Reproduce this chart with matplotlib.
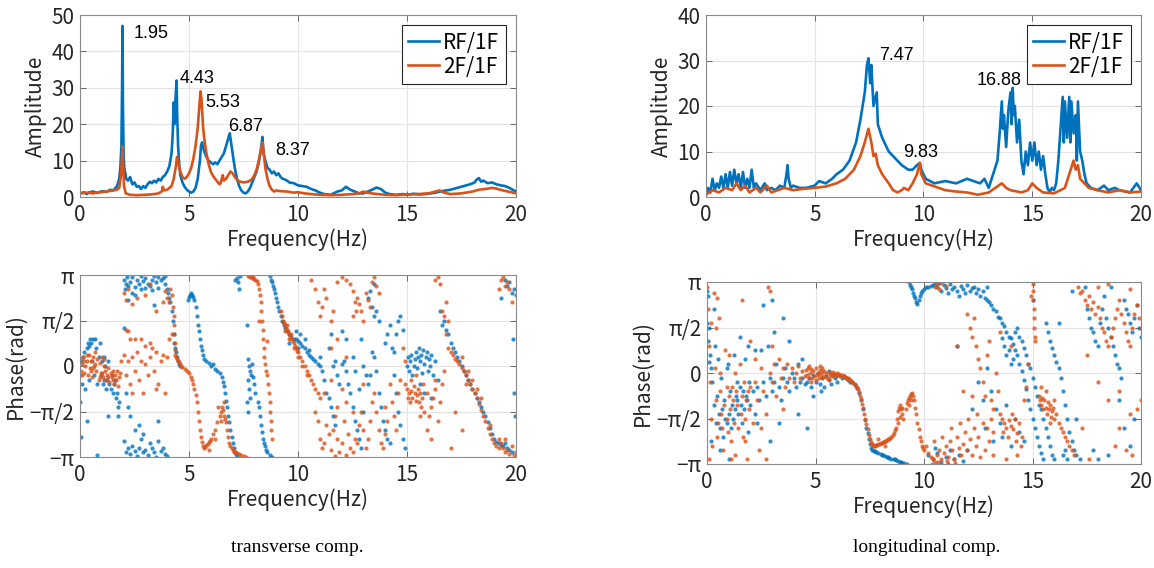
import numpy as np
import matplotlib
matplotlib.use("Agg")
import matplotlib.pyplot as plt

# ---- data (freq Hz, amplitude) ----
tr_amp_rf = [(0.0,1.0),(0.2,1.3),(0.3,0.8),(0.4,1.2),(0.6,1.5),(0.8,1.1),(1.0,1.6),(1.2,1.4),(1.4,2.0),(1.5,1.7),(1.6,2.3),(1.7,3.0),(1.8,5.0),(1.85,8.0),(1.9,14.0),(1.93,30.0),(1.95,47.0),(1.97,25.0),(2.0,12.0),(2.03,8.0),(2.08,6.5),(2.12,5.0),(2.2,4.5),(2.3,5.5),(2.4,3.5),(2.5,4.0),(2.6,2.8),(2.7,3.0),(2.8,2.2),(2.9,3.0),(3.0,2.5),(3.1,3.5),(3.2,4.2),(3.3,3.8),(3.4,4.5),(3.5,4.0),(3.6,5.0),(3.7,4.5),(3.8,5.5),(3.9,6.0),(4.0,7.0),(4.1,8.5),(4.2,12.0),(4.25,17.0),(4.3,26.0),(4.33,20.0),(4.38,27.0),(4.43,32.0),(4.46,22.0),(4.5,14.0),(4.55,9.0),(4.6,6.0),(4.7,4.0),(4.8,2.8),(4.9,2.0),(5.0,1.5),(5.1,1.2),(5.2,1.5),(5.3,2.5),(5.4,5.0),(5.5,10.0),(5.55,14.0),(5.6,15.0),(5.65,13.5),(5.7,12.5),(5.8,11.0),(5.9,10.0),(6.0,9.5),(6.1,9.0),(6.2,9.5),(6.3,9.0),(6.4,10.0),(6.5,11.0),(6.6,12.0),(6.7,14.0),(6.8,16.0),(6.87,17.5),(6.95,14.0),(7.0,12.0),(7.1,8.0),(7.2,5.0),(7.3,3.0),(7.4,1.8),(7.5,1.2),(7.6,1.0),(7.7,1.5),(7.8,2.5),(7.9,4.0),(8.0,5.5),(8.1,7.0),(8.2,9.5),(8.3,13.0),(8.37,16.5),(8.42,12.0),(8.5,10.0),(8.6,8.0),(8.7,7.5),(8.8,6.5),(8.9,7.0),(9.0,6.0),(9.1,6.5),(9.2,5.5),(9.3,5.0),(9.4,4.8),(9.5,4.5),(9.6,4.0),(9.8,3.8),(10.0,3.2),(10.2,3.0),(10.4,2.8),(10.6,2.2),(10.8,1.8),(11.0,1.2),(11.2,0.8),(11.5,0.6),(11.8,1.5),(12.0,1.8),(12.2,2.8),(12.4,2.0),(12.6,1.5),(12.8,1.0),(13.0,1.0),(13.2,1.5),(13.4,2.0),(13.6,2.6),(13.8,2.2),(14.0,1.2),(14.2,0.8),(14.5,0.6),(14.8,0.8),(15.0,0.6),(15.3,0.9),(15.6,0.7),(16.0,0.9),(16.3,1.2),(16.6,1.6),(17.0,2.0),(17.3,2.5),(17.6,3.0),(17.9,3.5),(18.1,4.0),(18.2,4.8),(18.3,5.2),(18.4,4.2),(18.5,4.5),(18.7,3.8),(18.9,4.0),(19.1,3.5),(19.3,3.2),(19.5,3.0),(19.7,2.5),(19.9,1.8),(20.0,1.5)]
tr_amp_2f = [(0.0,1.0),(0.3,1.2),(0.6,1.0),(0.9,1.3),(1.2,1.5),(1.5,1.8),(1.7,2.0),(1.8,2.5),(1.88,6.0),(1.93,11.0),(1.95,14.0),(1.98,9.0),(2.02,3.0),(2.1,1.0),(2.3,0.6),(2.6,0.5),(3.0,0.6),(3.4,0.8),(3.6,1.0),(3.75,1.5),(3.8,2.8),(3.85,1.8),(4.0,2.0),(4.2,3.0),(4.3,5.0),(4.4,8.5),(4.45,11.0),(4.5,9.5),(4.6,7.0),(4.7,5.5),(4.8,5.0),(4.9,5.5),(5.0,6.5),(5.1,8.0),(5.2,10.5),(5.3,14.0),(5.4,19.0),(5.45,23.0),(5.5,27.0),(5.53,29.0),(5.57,27.0),(5.6,24.0),(5.65,19.0),(5.7,16.0),(5.8,12.0),(5.9,9.0),(6.0,7.0),(6.1,5.8),(6.2,5.0),(6.3,4.2),(6.4,3.5),(6.45,3.8),(6.5,5.0),(6.55,6.0),(6.6,4.5),(6.7,5.0),(6.8,6.0),(6.9,7.0),(7.0,6.5),(7.1,5.5),(7.2,4.8),(7.3,4.3),(7.5,4.0),(7.7,4.2),(7.8,4.5),(7.9,5.0),(8.0,6.0),(8.1,7.5),(8.2,10.0),(8.3,13.0),(8.37,15.0),(8.42,12.5),(8.5,8.0),(8.6,5.0),(8.7,3.0),(8.8,2.0),(8.9,1.5),(9.0,1.8),(9.2,1.6),(9.5,1.5),(9.8,1.2),(10.0,1.3),(10.3,1.0),(10.6,0.8),(11.0,0.6),(11.5,0.5),(12.0,0.6),(12.5,0.8),(12.8,1.0),(13.0,1.5),(13.2,1.2),(13.5,0.9),(14.0,0.6),(14.5,0.5),(15.0,0.7),(15.5,0.8),(16.0,1.0),(16.3,1.5),(16.5,1.8),(16.7,1.2),(17.0,0.8),(17.5,1.0),(18.0,1.5),(18.3,2.0),(18.6,2.2),(18.9,2.5),(19.1,2.3),(19.4,1.8),(19.7,1.4),(20.0,1.0)]

lo_amp_rf = [(0.0,0.5),(0.1,2.0),(0.2,1.0),(0.3,4.0),(0.4,1.5),(0.5,3.0),(0.6,2.0),(0.7,4.5),(0.8,2.0),(0.9,5.0),(1.0,2.0),(1.1,5.5),(1.2,2.5),(1.3,6.0),(1.4,3.0),(1.5,5.0),(1.6,2.0),(1.7,5.5),(1.8,2.0),(1.9,4.0),(2.0,2.0),(2.1,6.0),(2.2,2.0),(2.3,3.0),(2.5,1.5),(2.7,3.0),(2.8,1.5),(3.0,2.0),(3.2,1.5),(3.4,2.5),(3.6,2.0),(3.7,5.0),(3.75,7.0),(3.8,4.0),(3.9,2.0),(4.0,2.5),(4.3,2.0),(4.6,2.0),(5.0,2.5),(5.2,3.5),(5.5,3.0),(5.8,4.0),(6.0,5.0),(6.3,6.0),(6.6,8.0),(6.9,12.0),(7.1,17.0),(7.3,23.0),(7.4,29.0),(7.47,30.5),(7.55,25.0),(7.6,29.0),(7.7,20.0),(7.8,22.0),(7.85,23.0),(7.9,16.0),(8.1,13.0),(8.4,10.0),(8.7,8.5),(9.0,7.0),(9.3,6.0),(9.5,6.0),(9.7,7.0),(9.83,7.5),(9.9,6.0),(10.1,4.0),(10.5,3.0),(11.0,3.5),(11.5,3.0),(12.0,4.0),(12.3,3.5),(12.6,3.0),(12.8,4.0),(13.0,2.0),(13.2,5.0),(13.4,8.0),(13.5,14.0),(13.6,21.0),(13.65,15.0),(13.7,18.0),(13.8,11.0),(13.9,19.0),(14.0,23.0),(14.05,16.0),(14.1,24.0),(14.15,18.0),(14.2,20.0),(14.3,12.0),(14.4,17.0),(14.5,8.0),(14.6,5.0),(14.7,10.0),(14.8,7.0),(14.9,12.0),(15.0,8.0),(15.1,12.0),(15.2,7.0),(15.3,10.0),(15.4,6.0),(15.5,9.0),(15.6,5.0),(15.7,2.0),(15.8,1.0),(15.9,2.0),(16.0,1.5),(16.1,3.0),(16.2,8.0),(16.3,15.0),(16.4,22.0),(16.45,12.0),(16.5,21.0),(16.6,13.0),(16.7,22.0),(16.75,12.0),(16.8,21.0),(16.9,14.0),(17.0,18.0),(17.05,8.0),(17.1,21.0),(17.2,10.0),(17.3,8.0),(17.4,5.0),(17.5,3.0),(17.7,2.0),(18.0,1.5),(18.3,2.5),(18.5,1.5),(18.8,2.0),(19.0,1.5),(19.5,1.0),(19.8,3.0),(20.0,1.5)]
lo_amp_2f = [(0.0,0.5),(0.3,1.5),(0.6,1.0),(0.9,2.0),(1.2,1.5),(1.4,3.0),(1.6,1.5),(1.8,2.5),(2.0,1.0),(2.3,2.0),(2.5,1.0),(2.8,2.5),(3.0,1.0),(3.3,1.5),(3.6,2.0),(4.0,1.5),(4.5,1.8),(5.0,2.0),(5.5,2.3),(6.0,3.0),(6.4,4.0),(6.8,6.0),(7.1,9.0),(7.3,12.0),(7.47,15.0),(7.6,12.0),(7.7,9.0),(7.8,9.5),(7.9,7.0),(8.1,5.0),(8.4,3.0),(8.6,1.5),(8.8,1.0),(9.0,1.5),(9.1,2.0),(9.3,1.5),(9.5,3.0),(9.7,5.0),(9.83,7.5),(9.9,5.0),(10.1,3.0),(10.4,2.5),(10.7,2.0),(11.0,1.5),(11.5,1.2),(12.0,1.0),(12.5,0.5),(13.0,1.0),(13.3,2.0),(13.6,3.0),(13.8,2.0),(14.0,1.5),(14.5,1.0),(14.8,1.5),(15.0,3.0),(15.2,2.0),(15.5,1.0),(16.0,0.8),(16.3,1.5),(16.5,2.0),(16.7,5.0),(16.9,8.0),(17.0,6.0),(17.1,7.0),(17.2,4.0),(17.4,3.0),(17.6,2.0),(18.0,1.5),(18.5,1.0),(19.0,1.5),(19.5,1.0),(20.0,1.2)]

# ---- phase (freq Hz, phase in units of pi) ----
tr_ph_rf = [
 (0.0,-0.1),(0.05,0.05),(0.1,-0.2),(0.15,0.1),(0.2,0.15),(0.25,-0.25),(0.3,0.2),(0.35,0.25),(0.4,-0.15),(0.45,0.3),(0.5,0.25),(0.55,0.05),(0.6,0.3),(0.65,-0.1),(0.7,0.3),(0.75,0.2),(0.8,-0.2),(0.85,0.1),(0.9,0.25),(0.95,-0.1),(1.0,0.05),(1.05,-0.2),(1.1,-0.15),(1.15,0.0),(1.2,-0.25),(1.25,-0.15),(1.3,0.05),(1.35,-0.2),(1.4,-0.25),(1.45,-0.1),(1.5,-0.3),(1.55,-0.2),(1.6,-0.15),(1.65,-0.35),(1.7,-0.3),(1.75,-0.45),(1.8,-0.4),
 (0.05,-0.78),(0.3,-0.6),(0.8,-0.98),(1.3,-0.55),(0.0,-0.4),(1.75,-0.55),(1.1,0.1),(0.4,0.22),
 (2.0,0.95),(2.05,0.85),(2.1,0.9),(2.15,0.98),(2.2,0.88),(2.3,0.92),(2.4,0.8),(2.5,0.87),(2.6,0.95),(2.7,0.9),(2.8,0.85),(2.9,0.93),(3.0,0.97),(3.1,0.9),(3.2,0.88),(3.3,0.95),(3.4,0.99),(3.5,0.92),(3.6,0.86),(3.7,0.94),(3.8,0.97),(3.9,0.9),(4.0,0.85),(4.05,0.8),(4.1,0.75),(4.15,0.7),(4.2,0.6),
 (2.2,0.72),(2.5,0.78),(2.8,0.99),(3.3,0.83),(3.6,0.98),(3.9,0.99),(2.4,0.98),(3.0,0.86),
 (2.0,-0.82),(2.1,-0.95),(2.2,-0.9),(2.3,-0.97),(2.4,-0.88),(2.5,-0.93),(2.6,-0.99),(2.7,-0.9),(2.8,-0.8),(2.9,-0.95),(3.0,-0.92),(3.1,-0.98),(3.2,-0.85),(3.3,-0.9),(3.4,-0.95),(3.5,-1.0),(3.6,-0.82),(3.7,-0.93),(3.8,-0.9),(3.9,-0.97),(4.0,-0.99),
 (2.0,0.42),(2.1,-0.3),(2.3,-0.55),(2.5,-0.7),(2.7,-0.65),(2.9,-0.75),(3.4,0.67),(3.6,-0.6),(2.2,-0.45),
 (4.25,0.5),(4.3,0.35),(4.33,0.25),(4.36,0.2),(4.4,0.15),(4.45,0.1),(4.5,0.05),(4.55,0.02),(4.6,0.0),
 (4.95,0.72),(5.0,0.76),(5.05,0.78),(5.1,0.8),(5.15,0.78),(5.2,0.76),(5.25,0.72),(5.3,0.65),(5.35,0.55),(5.4,0.45),(5.45,0.38),(5.5,0.3),(5.55,0.22),(5.6,0.18),(5.65,0.12),(5.7,0.08),(5.8,0.05),(5.9,0.03),(6.0,0.0),(6.1,0.02),(6.2,-0.03),(6.3,-0.05),(6.4,-0.08),(6.5,-0.12),(6.55,-0.18),(6.6,-0.22),(6.65,-0.3),(6.7,-0.38),(6.75,-0.45),(6.8,-0.55),(6.85,-0.62),(6.9,-0.7),(6.95,-0.78),(7.0,-0.85),(7.05,-0.9),(7.1,-0.94),(7.15,-0.97),(7.2,-0.99),
 (7.2,0.97),(7.25,0.92),(7.3,0.85),(7.35,0.99),(7.65,0.45),(7.1,0.95),
 (7.7,0.08),(7.75,0.0),(7.8,-0.05),(7.85,-0.1),(7.7,-0.15),(7.75,-0.25),(7.8,-0.35),(7.9,0.02),(7.95,-0.12),(8.0,-0.2),(7.65,-0.4),(7.7,-0.5),(8.05,-0.3),
 (8.15,-0.4),(8.2,-0.45),(8.25,-0.55),(8.3,-0.65),(8.35,-0.72),(8.4,-0.8),(8.45,-0.85),(8.5,-0.88),(8.55,-0.92),(8.6,-0.95),(8.7,-0.98),(8.8,-1.0),
 (8.7,0.99),(8.75,0.95),(8.8,0.92),(8.85,0.88),(8.9,0.85),(8.95,0.8),(9.0,0.75),(9.05,0.7),(9.1,0.65),(9.15,0.6),(9.2,0.55),(9.25,0.5),(9.3,0.48),(9.35,0.45),(9.4,0.42),(9.45,0.4),(9.5,0.38),(9.6,0.35),(9.7,0.32),(9.8,0.3),(9.9,0.3),(10.0,0.28),(10.1,0.25),(10.2,0.22),(10.3,0.2),(10.4,0.15),(10.5,0.12),(10.6,0.1),(10.7,0.08),(10.8,0.05),(10.9,0.02),(11.0,0.0),
 (9.9,0.38),(10.1,0.35),(10.3,0.3),(10.0,0.2),(10.5,0.18),(9.6,0.25),
 (11.0,0.1),(11.1,-0.05),(11.2,-0.15),(11.3,-0.3),(11.4,-0.35),(11.5,-0.45),(11.6,-0.55),(11.7,-0.65),(11.4,0.2),(11.5,0.35),(11.6,0.0),(11.7,0.05),(11.8,-0.1),(11.9,-0.2),(12.0,0.02),(12.1,0.05),(12.2,-0.05),(12.3,-0.2),(12.4,-0.3),(12.5,-0.45),(12.6,-0.6),(12.7,-0.7),(12.8,-0.8),(12.9,-0.9),(12.2,0.3),(12.0,0.38),(12.5,0.1),(12.6,-0.05),(12.8,-0.25),(13.0,0.0),(13.1,-0.1),(13.2,-0.2),(13.3,-0.1),(13.4,0.15),(13.5,0.1),(13.6,-0.05),(13.7,-0.3),(13.8,-0.45),(13.9,-0.6),(14.0,-0.7),(14.1,-0.8),(14.2,-0.85),(13.5,0.55),(13.6,0.6),(13.7,0.5),(13.4,0.65),(14.0,0.25),(14.1,0.35),(14.2,0.45),(14.3,0.2),(14.4,0.15),(14.5,0.35),(14.6,0.5),(14.7,0.55),(14.8,0.4),(14.4,-0.1),(14.5,-0.3),(14.6,-0.5),(14.7,-0.65),(14.8,-0.8),(14.9,-0.9),(13.3,0.82),(13.2,0.75),(13.5,0.9),(13.0,-0.5),(12.9,0.3),
 (15.0,0.0),(15.05,0.1),(15.1,-0.05),(15.15,0.05),(15.2,0.12),(15.25,-0.1),(15.3,0.0),(15.35,0.08),(15.4,0.15),(15.45,-0.02),(15.5,0.1),(15.55,0.2),(15.6,0.05),(15.65,0.12),(15.7,-0.08),(15.75,0.18),(15.8,0.02),(15.85,0.1),(15.9,0.15),(15.95,-0.05),(16.0,0.08),(16.05,0.0),(16.1,0.12),(16.2,-0.1),(16.3,0.05),(16.4,-0.15),(15.6,-0.2),(15.8,-0.3),(16.1,-0.35),(16.5,0.6),(16.6,0.45),(16.7,0.5),
 (16.8,0.4),(16.9,0.35),(17.0,0.25),(17.1,0.2),(17.2,0.15),(17.3,0.1),(17.4,0.05),(17.5,0.0),(17.6,-0.05),(17.7,-0.1),(17.8,-0.15),(17.9,-0.2),(18.0,-0.25),(18.1,-0.3),(18.2,-0.35),(18.3,-0.4),(18.4,-0.45),(18.5,-0.5),(18.6,-0.55),(18.7,-0.62),(18.8,-0.68),(18.9,-0.75),(19.0,-0.8),(19.1,-0.83),(19.2,-0.85),(19.3,-0.87),(19.4,-0.88),(19.5,-0.85),(19.6,-0.9),(19.7,-0.92),(19.8,-0.95),
 (19.5,0.95),(19.6,0.88),(19.7,0.92),(19.8,0.8),(19.9,0.85),(20.0,0.78),(19.85,0.3),(19.9,-0.3),(19.95,-0.55),(19.3,0.75)]

tr_ph_2f = [
 (0.0,0.08),(0.05,-0.05),(0.1,0.02),(0.15,0.1),(0.2,-0.08),(0.25,0.0),(0.3,0.05),(0.35,-0.1),(0.4,0.12),(0.45,-0.02),(0.5,0.06),(0.55,-0.12),(0.6,0.1),(0.65,0.0),(0.7,0.15),(0.75,-0.05),(0.8,0.08),(0.85,-0.15),(0.9,0.03),(0.95,-0.08),(1.0,0.1),(1.05,-0.12),(1.1,0.0),(1.15,-0.05),(1.2,-0.15),(1.25,-0.1),(1.3,-0.02),(1.35,-0.18),(1.4,-0.08),(1.45,-0.12),(1.5,-0.05),(1.55,-0.2),(1.6,-0.1),(1.65,-0.15),(1.7,-0.05),(1.75,-0.22),(1.8,-0.12),(1.85,-0.08),(1.9,0.05),
 (0.1,-0.1),(0.3,0.12),(0.5,-0.05),(0.7,0.02),(0.9,-0.12),(1.1,0.08),(1.3,-0.12),(1.5,-0.15),(0.2,0.05),(0.6,-0.02),(1.0,-0.08),
 (2.0,0.12),(2.1,-0.1),(2.2,0.05),(2.3,-0.2),(2.4,0.1),(2.5,-0.05),(2.6,0.15),(2.7,-0.15),(2.8,0.05),(2.9,-0.3),(3.0,0.02),(3.1,-0.1),(3.2,0.1),(3.3,0.2),(3.4,-0.05),(3.5,0.15),(3.6,-0.2),(3.7,0.05),(3.8,0.12),(3.9,-0.3),(4.0,0.1),(4.1,0.3),(4.2,0.35),(2.2,0.38),(2.5,0.3),(2.8,0.3),(3.0,0.22),(3.2,0.25),(2.4,-0.3),(3.5,-0.25),(2.1,0.4),(2.3,0.3),
 (2.0,0.8),(2.1,0.72),(2.2,0.85),(2.4,0.68),(2.6,0.75),(3.0,0.78),(3.5,0.6),(3.9,0.82),(4.0,0.75),(4.1,0.7),(4.15,0.85),(4.2,0.78),(4.25,0.65),(4.3,0.55),(3.8,0.7),(3.2,0.9),
 (4.3,0.45),(4.32,0.35),(4.34,0.25),(4.36,0.18),(4.38,0.12),
 (4.4,0.1),(4.45,0.08),(4.5,0.05),(4.55,0.04),(4.6,0.02),(4.65,0.0),(4.7,-0.01),(4.8,-0.03),(4.9,-0.05),(5.0,-0.08),(5.1,-0.12),(5.15,-0.15),(5.2,-0.2),(5.25,-0.25),(5.3,-0.32),(5.35,-0.4),(5.4,-0.5),(5.45,-0.6),(5.5,-0.7),(5.55,-0.78),(5.6,-0.84),(5.65,-0.88),(5.7,-0.9),(5.75,-0.89),(5.8,-0.87),(5.85,-0.86),(5.9,-0.84),(5.95,-0.82),(6.0,-0.8),(6.1,-0.75),(6.2,-0.7),(6.3,-0.62),(6.4,-0.55),(6.45,-0.5),(6.5,-0.45),(6.55,-0.48),(6.6,-0.55),(6.65,-0.58),(6.7,-0.62),(6.75,-0.7),(6.8,-0.78),(6.85,-0.85),(6.9,-0.88),(6.95,-0.9),(7.0,-0.92),(7.05,-0.94),(7.1,-0.95),(7.2,-0.96),(7.3,-0.97),(7.4,-0.98),(7.5,-0.99),(7.6,-1.0),
 (6.35,-0.45),(6.45,-0.6),(6.6,-0.4),(6.2,-0.8),(5.9,-0.92),
 (7.7,0.99),(7.75,1.0),(7.8,0.98),(7.85,0.99),(7.9,0.97),(7.95,0.98),(8.0,0.96),(8.05,0.95),(8.1,0.93),(8.15,0.9),(8.2,0.85),
 (8.25,0.78),(8.3,0.7),(8.32,0.6),(8.35,0.5),(8.38,0.4),(8.4,0.3),(8.42,0.2),(8.45,0.1),(8.5,0.02),(8.55,-0.05),(8.6,-0.1),(8.62,-0.2),(8.65,-0.3),(8.7,-0.4),(8.72,-0.5),(8.75,-0.6),(8.78,-0.7),(8.8,-0.8),(8.6,0.28),(8.2,0.5),
 (9.2,0.6),(9.25,0.55),(9.3,0.5),(9.35,0.47),(9.4,0.45),(9.45,0.42),(9.5,0.4),(9.55,0.38),(9.6,0.35),(9.65,0.33),(9.7,0.3),(9.75,0.28),(9.8,0.25),(9.85,0.22),(9.9,0.2),(9.95,0.17),(10.0,0.15),(10.1,0.1),(10.2,0.05),(10.3,0.0),(10.4,-0.05),(10.5,-0.1),(10.6,-0.15),(10.7,-0.2),(10.8,-0.25),(10.9,-0.3),(11.0,-0.35),
 (9.4,0.38),(9.6,0.3),(9.8,0.2),(10.0,0.1),(9.5,0.45),(9.7,0.35),(10.2,0.0),(10.4,-0.1),
 (10.6,0.95),(10.8,0.85),(10.9,0.7),(11.0,0.55),(11.1,0.65),(11.2,0.85),(11.3,0.75),(11.5,0.5),(11.6,0.6),(11.8,0.92),(12.0,0.98),(12.2,0.95),(12.4,0.9),(12.5,0.82),(12.6,0.7),(12.65,0.6),(12.7,0.75),(12.8,0.68),(12.9,0.6),(13.0,0.5),(13.1,0.8),(13.2,0.72),(13.3,0.65),(13.4,0.92),(13.5,0.98),(13.6,0.88),(13.7,0.8),(12.5,0.55),(11.5,0.2),(11.8,0.3),(12.2,0.1),
 (10.8,-0.5),(10.9,-0.6),(11.0,-0.8),(11.1,-0.9),(11.2,-0.85),(11.3,-0.65),(11.4,-0.75),(11.5,-0.92),(11.6,-0.7),(11.7,-0.55),(11.8,-0.8),(11.9,-0.95),(12.0,-0.85),(12.1,-0.6),(12.2,-0.4),(12.3,-0.75),(12.4,-0.9),(12.5,-0.95),(12.6,-0.8),(12.7,-0.85),(12.8,-0.65),(12.9,-0.5),(13.0,-0.7),(13.1,-0.9),(13.2,-0.8),(13.3,-0.6),(13.4,-0.4),(13.5,-0.3),(13.6,-0.5),(13.7,-0.7),(13.8,-0.85),(13.9,-0.9),(14.0,-0.75),(14.1,-0.6),(14.2,-0.2),(14.3,-0.4),(14.4,-0.55),(14.5,-0.7),(14.6,-0.3),(14.7,-0.15),(14.8,0.2),(14.9,0.05),(11.2,-0.3),(11.5,-0.15),(11.8,-0.45),(12.0,-0.25),(12.5,-0.5),(13.0,-0.2),(14.0,-0.45),(12.2,-0.98),(11.7,-0.99),
 (14.9,-0.2),(15.0,-0.25),(15.05,-0.35),(15.1,-0.3),(15.15,-0.4),(15.2,-0.28),(15.25,-0.35),(15.3,-0.22),(15.35,-0.3),(15.4,-0.38),(15.45,-0.32),(15.5,-0.25),(15.55,-0.4),(15.6,-0.3),(15.65,-0.45),(15.7,-0.35),(15.75,-0.2),(15.8,-0.5),(15.9,-0.3),(16.0,-0.55),(16.1,-0.45),(16.2,-0.35),(16.3,-0.25),(16.4,-0.6),(16.5,-0.4),(15.2,-0.15),(15.4,-0.1),(15.6,-0.55),(15.9,-0.7),(16.1,-0.8),(16.3,-0.15),(16.6,-0.2),(16.7,-0.05),
 (16.3,0.95),(16.4,0.98),(16.5,0.9),(16.6,0.6),(16.7,0.55),(16.8,0.35),
 (16.9,0.2),(17.0,0.15),(17.1,0.12),(17.2,0.08),(17.3,0.05),(17.4,0.02),(17.5,-0.02),(17.6,-0.05),(17.7,-0.1),(17.8,-0.15),(17.9,-0.2),(18.0,-0.25),(18.1,-0.3),(18.2,-0.35),(18.3,-0.42),(18.4,-0.48),(18.5,-0.55),(18.6,-0.6),(18.7,-0.68),(18.8,-0.75),(18.9,-0.8),(19.0,-0.85),(19.1,-0.88),(19.2,-0.9),(19.3,-0.85),(19.4,-0.9),(19.5,-0.95),(19.6,-0.92),(19.7,-0.97),(19.8,-0.88),(19.9,-0.98),(20.0,-0.95),
 (17.5,0.1),(17.8,-0.05),(18.0,-0.15),(18.2,-0.25),(17.7,-0.2),(18.4,-0.35),(18.8,-0.65),(19.2,-0.8),(19.5,-0.8),
 (19.3,0.95),(19.4,0.98),(19.5,0.88),(19.6,0.92),(19.7,0.85),(19.8,0.7),(19.2,0.85),
 (16.8,0.7),(16.9,0.5),(17.2,-0.5),(17.5,-0.7),(17.0,-0.9)]

lo_ph_rf = [
 (0.0,0.9),(0.02,0.55),(0.05,0.35),(0.08,0.12),
 (0.05,0.85),(0.1,0.5),(0.15,0.2),(0.2,0.05),(0.25,-0.1),(0.3,-0.35),(0.35,0.3),(0.4,-0.55),(0.45,-0.25),(0.5,0.15),(0.55,-0.45),(0.6,-0.6),(0.65,-0.05),(0.7,-0.4),(0.75,-0.7),(0.8,-0.3),(0.85,-0.5),(0.9,-0.55),(0.95,0.1),(1.0,-0.45),(1.05,-0.2),(1.1,-0.6),(1.15,-0.35),(1.2,-0.5),(1.25,0.2),(1.3,-0.4),(1.35,-0.25),(1.4,-0.3),(1.45,-0.45),(1.5,-0.15),(1.55,-0.35),(1.6,-0.55),(1.65,-0.2),(1.7,-0.4),(1.75,0.15),(1.8,-0.25),(1.85,-0.3),(1.9,-0.65),(1.95,-0.1),(2.0,-0.35),(2.1,-0.2),(2.2,-0.45),(2.3,-0.15),(2.4,-0.3),(2.5,0.25),(2.6,-0.1),(2.7,-0.25),(2.8,0.3),(2.9,-0.05),(3.0,-0.2),(3.1,-0.1),(3.2,0.1),(3.3,-0.15),(3.4,-0.3),(3.5,-0.05),(3.6,0.05),(3.7,-0.1),(3.8,-0.2),(3.9,0.0),(4.0,-0.05),(4.1,-0.15),(4.2,0.1),(4.3,-0.1),(4.4,-0.05),(4.5,-0.12),
 (0.3,0.7),(0.6,-0.85),(1.0,-0.95),(1.5,0.4),(2.2,0.25),(2.6,0.75),(3.0,0.8),(3.1,0.45),(3.8,0.35),(4.4,0.15),(4.6,-0.6),(3.3,-0.55),(2.9,-0.75),(0.9,0.05),(1.4,-0.1),(1.9,0.3),(0.2,-0.75),(2.3,-0.55),(4.2,-0.45),(3.5,0.6),
 (4.6,-0.1),(4.7,-0.05),(4.8,-0.15),(4.9,-0.02),(5.0,-0.1),(5.1,0.0),(5.2,-0.12),(5.3,-0.05),(5.4,-0.15),(5.5,-0.03),(5.6,-0.08),(5.7,-0.12),(5.8,-0.02),(5.9,-0.06),(6.0,-0.1),(6.1,-0.02),(6.2,-0.05),(6.3,-0.03),(6.4,-0.06),(6.5,-0.08),(6.6,-0.1),(5.25,-0.2),(4.9,-0.25),(5.6,0.02),
 (6.7,-0.1),(6.8,-0.13),(6.9,-0.17),(7.0,-0.22),(7.1,-0.3),(7.2,-0.4),(7.3,-0.52),(7.35,-0.6),(7.4,-0.66),(7.45,-0.72),(7.5,-0.78),(7.55,-0.82),(7.6,-0.85),
 (7.7,-0.86),(7.8,-0.87),(7.9,-0.88),(8.0,-0.89),(8.1,-0.9),(8.2,-0.91),(8.3,-0.92),(8.4,-0.93),(8.5,-0.94),(8.6,-0.95),(8.7,-0.96),(8.8,-0.97),(8.9,-0.98),(9.0,-0.99),(9.1,-0.99),(9.2,-1.0),(7.75,-0.86),(8.05,-0.9),(8.35,-0.92),(8.65,-0.95),(8.95,-0.98),
 (9.3,1.0),(9.35,0.97),(9.4,0.95),(9.45,0.92),(9.5,0.88),(9.55,0.85),(9.6,0.82),(9.65,0.78),(9.7,0.76),(9.75,0.8),(9.8,0.85),(9.85,0.88),(9.9,0.9),(10.0,0.92),(10.1,0.94),(10.2,0.95),(10.3,0.96),(10.4,0.97),(10.5,0.98),
 (10.6,0.95),(10.7,0.99),(10.8,0.9),(10.9,0.97),(11.0,0.93),(11.1,0.88),(11.2,0.98),(11.3,0.92),(11.4,0.95),(11.5,0.9),(11.6,0.85),(11.7,0.96),(11.8,0.92),(11.9,0.88),(12.0,0.97),(12.1,0.9),(12.2,0.93),(12.3,0.95),(12.4,0.88),(12.5,0.92),(12.6,0.85),(12.7,0.9),(12.8,0.82),(12.9,0.8),(13.0,0.78),(13.1,0.75),(13.2,0.7),(13.3,0.68),(13.4,0.62),(13.5,0.6),(13.6,0.55),(13.7,0.52),(13.8,0.45),(13.9,0.4),(14.0,0.38),(14.1,0.32),(14.2,0.25),(14.3,0.2),(14.4,0.1),(14.5,0.02),(14.6,-0.08),(14.7,-0.18),(14.8,-0.3),(14.9,-0.4),(15.0,-0.5),(15.1,-0.6),(15.2,-0.7),(15.3,-0.8),(15.4,-0.88),(15.5,-0.95),
 (13.6,0.38),(13.7,0.3),(13.8,0.2),(13.9,0.25),(14.0,0.1),(14.1,0.15),(14.2,0.45),(14.3,0.5),(14.4,0.4),(14.5,0.35),(14.6,0.28),(14.7,0.2),(14.8,0.1),(14.9,0.05),(15.0,-0.05),(15.1,-0.15),(15.2,-0.25),(15.3,-0.35),(15.4,-0.4),(15.5,-0.5),(15.6,-0.6),(15.7,-0.7),(15.8,-0.8),(15.9,-0.9),(16.0,-0.95),
 (15.6,0.55),(15.7,0.45),(15.8,0.35),(15.9,0.28),(16.0,0.2),(16.1,0.12),(16.2,0.05),(16.3,-0.05),(16.4,-0.2),(16.5,-0.35),(16.6,-0.5),(16.7,-0.65),(16.8,-0.75),(16.9,-0.85),(17.0,-0.9),(17.2,-0.95),
 (17.5,0.7),(17.6,0.6),(17.7,0.5),(17.8,0.45),(17.9,0.35),(18.0,0.3),(18.1,0.55),(18.2,0.7),(18.3,0.85),(18.4,0.6),(18.5,0.5),(18.6,0.4),(18.7,0.3),(18.8,0.2),(18.9,0.1),(19.0,0.05),(19.1,-0.05),(19.2,0.8),(19.3,0.7),(19.4,0.65),(19.5,0.55),(19.6,0.45),(19.7,0.6),(19.8,0.75),(19.9,0.5),(20.0,0.4),(19.5,-0.8),(19.2,-0.6),(18.5,-0.9),(18.0,-0.95),(17.8,-0.85),(17.4,0.95),(18.6,0.95),(19.0,-0.3),(19.7,-0.5),
 (10.2,-0.9),(10.4,-0.95),(10.6,-0.88),(10.8,-0.98),(11.0,-0.92),(11.2,-0.85),(11.4,-0.95),(11.6,-0.9),(11.8,-0.97),(12.0,-0.85),(10.5,-0.82),(11.1,-1.0),
 (12.5,-0.1),(12.7,-0.3),(12.9,0.05),(13.1,-0.2),(13.3,-0.4),(13.5,-0.55),(13.6,-0.7),(12.8,-0.6),(13.2,-0.75),(11.5,0.3),(12.2,-0.4),(13.8,-0.35),(14.2,-0.5),(14.4,-0.65),(14.6,-0.75),(14.0,-0.8),(16.4,-0.9),(16.5,-0.85),(16.6,-0.95),(17.0,-0.5),(16.2,0.55),(16.8,0.9),(15.0,0.8),(12.9,0.95)]

lo_ph_2f = [
 (0.0,0.95),(0.05,0.7),(0.1,0.3),(0.15,-0.1),(0.2,-0.5),(0.25,-0.8),(0.3,0.88),(0.35,0.05),(0.4,-0.3),(0.45,-0.7),(0.5,-0.55),(0.55,0.6),(0.6,-0.2),(0.65,-0.45),(0.7,-0.6),(0.75,-0.85),(0.8,-0.35),(0.85,0.25),(0.9,-0.5),(0.95,-0.65),(1.0,-0.25),(1.05,-0.4),(1.1,-0.75),(1.15,-0.15),(1.2,-0.3),(1.25,-0.55),(1.3,-0.9),(1.35,-0.2),(1.4,-0.35),(1.45,-0.6),(1.5,0.1),(1.55,-0.45),(1.6,-0.25),(1.65,-0.7),(1.7,-0.1),(1.75,-0.5),(1.8,-0.3),(1.85,-0.95),(1.9,-0.2),(1.95,-0.4),(2.0,-0.15),(2.1,-0.55),(2.2,-0.1),(2.3,-0.3),(2.4,-0.85),(2.5,0.05),(2.6,-0.2),(2.7,-0.45),(2.8,0.95),(2.9,0.0),(3.0,-0.1),(3.1,0.1),(3.2,-0.25),(3.3,0.15),(3.4,-0.05),(3.5,0.05),(3.6,-0.15),(3.7,0.1),(3.8,-0.05),(3.9,0.05),(4.0,-0.1),(4.1,0.0),(4.2,0.08),(4.3,-0.05),(4.4,0.02),(4.5,-0.03),
 (0.45,0.82),(1.6,0.8),(2.9,0.9),(0.2,0.55),(1.0,0.2),(2.0,0.35),(3.0,0.3),(2.5,-0.6),(3.5,-0.4),(0.6,0.0),(1.3,0.0),(2.2,0.15),(0.4,0.5),(1.1,-0.95),(0.9,-0.15),(1.75,-0.75),(2.7,-0.95),(0.1,-0.95),
 (4.55,0.03),(4.6,-0.02),(4.65,0.05),(4.7,-0.05),(4.75,0.0),(4.8,0.04),(4.85,-0.06),(4.9,0.02),(4.95,-0.03),(5.0,0.05),(5.05,-0.02),(5.1,0.0),(5.15,-0.05),(5.2,0.03),(5.25,-0.02),(5.3,0.01),(5.35,-0.04),(5.4,0.02),(5.45,-0.03),(5.5,0.0),(5.55,-0.05),(5.6,0.01),(5.65,-0.02),(5.7,0.0),(5.75,-0.03),(5.8,0.01),(5.85,-0.02),(5.9,-0.01),(5.95,-0.03),(6.0,0.0),(6.05,-0.02),(6.1,-0.01),(6.15,-0.03),(6.2,-0.02),(6.25,-0.03),(6.3,-0.03),(6.35,-0.04),(6.4,-0.05),(6.45,-0.05),(6.5,-0.06),(6.55,-0.07),(6.6,-0.08),(6.65,-0.09),(6.7,-0.1),(6.75,-0.11),(4.7,0.08),(5.0,-0.08),(5.3,0.06),(5.6,-0.07),(4.8,-0.1),(5.2,0.08),
 (6.8,-0.12),(6.85,-0.14),(6.9,-0.16),(6.95,-0.18),(7.0,-0.21),(7.05,-0.25),(7.1,-0.29),(7.15,-0.34),(7.2,-0.39),(7.25,-0.45),(7.3,-0.5),(7.35,-0.56),(7.4,-0.62),(7.45,-0.68),(7.5,-0.72),(7.55,-0.76),(7.6,-0.78),(7.65,-0.79),
 (7.7,-0.8),(7.75,-0.8),(7.8,-0.79),(7.85,-0.79),(7.9,-0.78),(7.95,-0.78),(8.0,-0.77),(8.05,-0.77),(8.1,-0.76),(8.15,-0.76),(8.2,-0.75),(8.25,-0.75),(8.3,-0.74),(8.35,-0.73),(8.4,-0.72),(8.45,-0.71),(8.5,-0.7),(8.55,-0.68),(8.6,-0.66),(8.65,-0.63),(8.7,-0.6),(7.9,-0.72),(8.2,-0.8),
 (8.75,-0.5),(8.8,-0.42),(8.85,-0.38),(8.9,-0.35),(8.95,-0.4),(9.0,-0.45),(9.05,-0.5),(8.8,-0.55),(8.9,-0.48),(9.0,-0.38),
 (9.15,-0.4),(9.2,-0.33),(9.25,-0.3),(9.3,-0.27),(9.35,-0.25),(9.4,-0.23),(9.45,-0.22),(9.5,-0.25),(9.55,-0.3),(9.6,-0.38),(9.65,-0.45),(9.7,-0.55),(9.75,-0.62),(9.8,-0.7),(9.85,-0.75),(9.9,-0.8),(9.3,-0.35),(9.4,-0.3),
 (9.95,-0.82),(10.0,-0.85),(10.1,-0.8),(10.2,-0.88),(10.3,-0.92),(10.4,-0.95),(10.5,-0.98),(10.6,-0.9),(10.7,-0.85),(10.8,-0.95),(10.9,-0.88),(11.0,-0.8),(11.1,-0.92),(11.2,-0.75),(11.3,-0.85),(11.4,-0.95),(11.5,-0.7),(11.6,-0.82),(11.7,-0.9),(11.8,-0.78),(11.9,-0.65),(12.0,-0.85),(12.1,-0.72),(12.2,-0.9),(12.3,-0.6),(12.4,-0.8),(12.5,-0.7),(12.6,-0.92),(12.7,-0.55),(10.35,-1.0),(10.65,-0.98),(11.05,-0.97),(11.45,-0.99),(10.45,-0.75),(10.85,-0.7),(11.25,-0.6),(11.65,-0.55),(12.05,-0.5),(12.45,-0.45),(12.8,-0.85),(12.9,-0.6),(13.0,-0.75),(13.1,-0.5),(13.2,-0.65),
 (10.5,0.95),(10.6,0.98),(10.7,0.92),(10.8,0.99),(11.0,0.96),
 (12.0,0.65),(12.1,0.5),(12.2,0.4),(12.3,0.6),(12.4,0.3),(12.5,0.15),(12.6,0.05),(12.7,-0.1),(12.8,-0.25),(12.9,0.2),(13.0,0.35),(13.1,-0.3),(13.2,-0.4),(13.3,0.0),(13.4,-0.2),(13.5,-0.45),(13.6,-0.5),(13.7,-0.55),(13.8,-0.6),(13.9,-0.52),(14.0,-0.58),(14.1,-0.62),(14.2,-0.5),(14.3,-0.66),(14.4,-0.55),(14.5,-0.7),(13.65,-0.65),(13.85,-0.7),(14.05,-0.45),(14.25,-0.75),(14.45,-0.8),(14.6,-0.3),(14.7,-0.15),(14.8,0.1),(11.5,0.3),(11.8,-0.2),(12.2,-0.25),(13.5,0.45),(14.0,0.3),(13.2,-0.9),(13.8,-0.95),(14.3,-0.9),
 (15.0,0.98),(15.02,0.9),(15.03,0.8),(15.05,0.7),(15.06,0.6),(15.08,0.5),(15.1,0.4),(15.12,0.35),(14.95,0.85),
 (15.3,-0.25),(15.35,-0.3),(15.4,-0.35),(15.45,-0.28),(15.5,-0.4),(15.55,-0.3),(15.6,-0.38),(15.65,-0.45),(15.7,-0.32),(15.75,-0.4),(15.8,-0.35),(15.85,-0.48),(15.9,-0.42),(15.95,-0.38),(16.0,-0.5),(16.1,-0.45),(16.2,-0.55),(16.3,-0.6),(16.4,-0.65),(16.5,-0.7),(16.6,-0.75),(16.7,-0.8),(16.8,-0.85),(15.4,-0.15),(15.6,-0.2),(16.0,-0.3),(15.8,-0.55),
 (17.1,0.95),(17.2,0.88),(17.3,0.9),(17.4,0.8),(17.5,0.75),(17.6,0.85),(17.7,0.7),(17.8,0.78),(17.9,0.65),(18.0,0.72),(18.1,0.6),(18.2,0.5),(18.3,0.45),(18.4,0.35),(18.5,0.3),(18.6,0.4),(18.7,0.5),(18.8,0.6),(18.9,0.7),(19.0,0.8),(19.1,0.65),(19.2,0.55),(19.3,0.45),(19.4,0.35),(19.5,0.3),(19.6,0.5),(19.7,0.65),(19.8,0.75),(19.9,0.6),(20.0,0.5),(18.0,0.95),(18.5,0.98),(19.5,0.92),(17.5,0.2),(18.0,-0.1),(18.5,-0.3),(19.0,-0.2),(19.5,-0.45),(19.8,-0.4),(20.0,-0.3),(19.3,-0.85),(19.6,-0.9),(18.8,-0.8),(19.0,-0.6),(17.3,-0.6),(17.6,-0.95),(16.9,-0.9)]

tr_peaks = [(1.95, 2.45, 45.0), (4.43, 4.55, 32.5), (5.53, 5.75, 26.0), (6.87, 6.8, 19.3), (8.37, 8.95, 12.8)]
lo_peaks = [(7.47, 7.95, 31.0), (9.83, 9.05, 9.8), (16.88, 12.45, 25.5)]
series_names = ["RF/1F", "2F/1F"]

BLUE = "#0072BD"
ORANGE = "#D95319"
TXT = "#262626"
JP = ["Noto Sans CJK JP", "DejaVu Sans"]

W, H = 1154, 568
fig = plt.figure(figsize=(W / 100, H / 100), dpi=100)


def box(l, r, t, b):
    return fig.add_axes([l / W, 1 - b / H, (r - l) / W, (b - t) / H])


def style(ax):
    ax.set_xlim(0, 20)
    ax.set_xticks([0, 5, 10, 15, 20])
    ax.grid(True, color="#e3e3e3", lw=0.8)
    ax.set_axisbelow(True)
    ax.tick_params(direction="in", length=4, width=0.6, color="#555555",
                   top=True, right=True, labelsize=15, labelcolor=TXT)
    ax.tick_params(axis="x", pad=5)
    ax.tick_params(axis="y", pad=4)
    for s in ax.spines.values():
        s.set_color("#8a8a8a")
        s.set_linewidth(0.8)
    for lab in ax.get_xticklabels() + ax.get_yticklabels():
        lab.set_family(JP)
    ax.set_xlabel("Frequency(Hz)", fontsize=15, color=TXT, family=JP, labelpad=2)


def amp_panel(ax, rf, f2, ymax, peaks):
    for data, col, name in [(rf, BLUE, series_names[0]), (f2, ORANGE, series_names[1])]:
        a = np.array(data)
        ax.plot(a[:, 0], a[:, 1], color=col, lw=1.9, label=name)
    ax.set_ylim(0, ymax)
    ax.set_yticks(np.arange(0, ymax + 1, 10))
    style(ax)
    ax.set_ylabel("Amplitude", fontsize=15, color=TXT, family=JP, labelpad=3)
    for val, x, y in peaks:
        ax.text(x, y, f"{val:.2f}", fontsize=13, va="center", ha="left",
                family=["Liberation Sans Narrow", "Liberation Sans"])
    leg = ax.legend(loc="upper right", handlelength=1.5, handletextpad=0.2,
                    borderpad=0.3, labelspacing=0.1, fancybox=False, framealpha=1,
                    edgecolor="#262626", prop={"family": JP, "size": 15})
    leg.get_frame().set_linewidth(0.8)


def phase_panel(ax, rf, f2):
    for data, col in [(rf, BLUE), (f2, ORANGE)]:
        a = np.array(data)
        ax.scatter(a[:, 0], a[:, 1] * np.pi, s=9, color=col, alpha=0.8, lw=0)
    ax.set_ylim(-np.pi, np.pi)
    ax.set_yticks([-np.pi, -np.pi / 2, 0, np.pi / 2, np.pi])
    ax.set_yticklabels(["\u2212\u03c0", "\u2212\u03c0/2", "0", "\u03c0/2", "\u03c0"])
    style(ax)
    ax.set_ylabel("Phase(rad)", fontsize=15, color=TXT, family=JP, labelpad=2)


amp_panel(box(80, 516, 15, 197), tr_amp_rf, tr_amp_2f, 50, tr_peaks)
amp_panel(box(706, 1141, 15, 197), lo_amp_rf, lo_amp_2f, 40, lo_peaks)
phase_panel(box(80, 516, 275, 457), tr_ph_rf, tr_ph_2f)
phase_panel(box(707, 1141, 282, 464), lo_ph_rf, lo_ph_2f)

fig.text(297 / W, 1 - 548 / H, "transverse comp.", ha="center", va="center",
         fontsize=14, family="Liberation Serif")
fig.text(927 / W, 1 - 548 / H, "longitudinal comp.", ha="center", va="center",
         fontsize=14, family="Liberation Serif")

fig.savefig("out.png", dpi=100)
